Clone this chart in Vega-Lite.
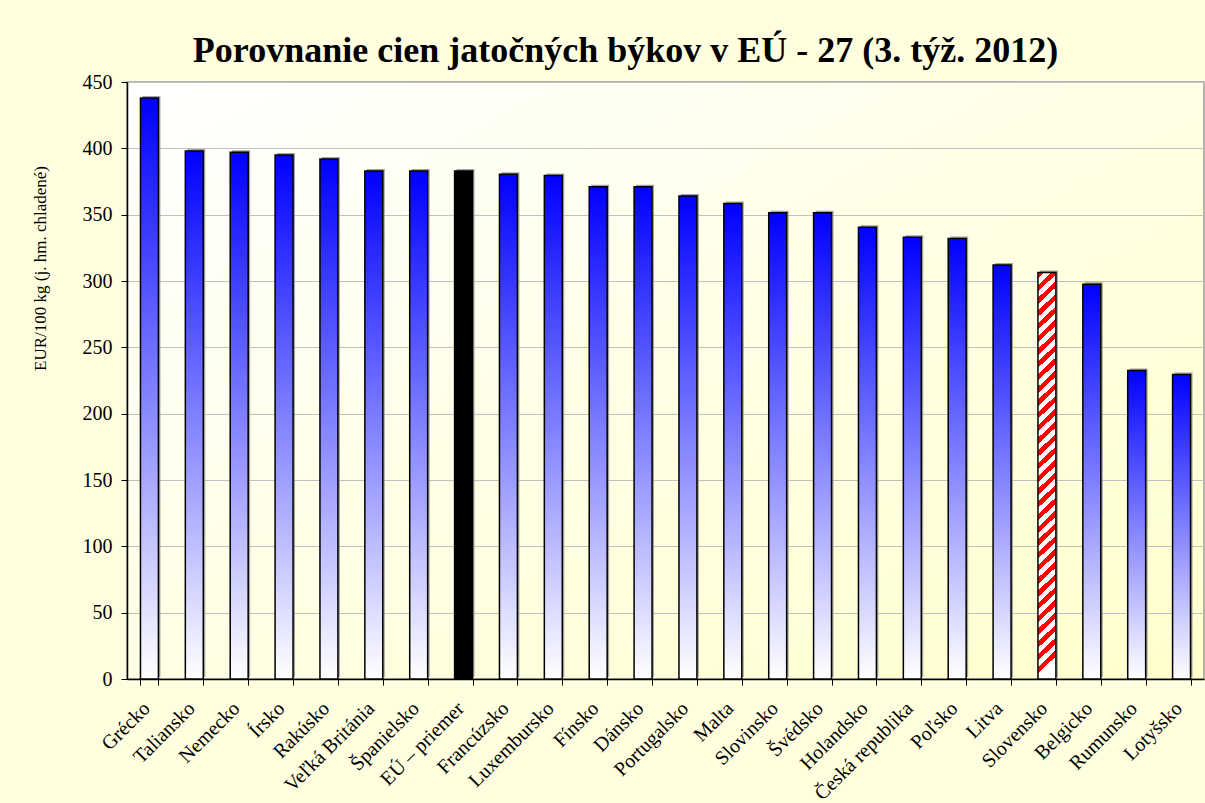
{
  "$schema": "https://vega.github.io/schema/vega-lite/v6.json",
  "autosize": "none",
  "width": 1077,
  "height": 597,
  "padding": {"left": 127, "top": 82, "right": 1, "bottom": 124},
  "background": "#FFFFE0",
  "config": {
    "font": "Liberation Serif",
    "view": {
      "stroke": "#9A9A9A",
      "strokeWidth": 1.5,
      "fill": {"gradient": "linear", "x1": 0, "y1": 0, "x2": 1, "y2": 1,
        "stops": [{"offset": 0, "color": "#FFFFFF"}, {"offset": 1, "color": "#FFFFCC"}]}
    }
  },
  "title": {
    "text": "Porovnanie cien jatočných býkov v EÚ - 27 (3. týž. 2012)",
    "font": "Liberation Serif",
    "fontSize": 36,
    "fontWeight": "bold",
    "color": "#000000",
    "anchor": "middle",
    "dx": -40,
    "offset": 2
  },
  "data": {
    "values": [
      {"country": "Grécko", "value": 438, "kind": "normal"},
      {"country": "Taliansko", "value": 398, "kind": "normal"},
      {"country": "Nemecko", "value": 397, "kind": "normal"},
      {"country": "Írsko", "value": 395, "kind": "normal"},
      {"country": "Rakúsko", "value": 392, "kind": "normal"},
      {"country": "Veľká Británia", "value": 383, "kind": "normal"},
      {"country": "Španielsko", "value": 383, "kind": "normal"},
      {"country": "EÚ – priemer", "value": 383, "kind": "avg"},
      {"country": "Francúzsko", "value": 380.5, "kind": "normal"},
      {"country": "Luxembursko", "value": 379.5, "kind": "normal"},
      {"country": "Fínsko", "value": 371, "kind": "normal"},
      {"country": "Dánsko", "value": 371, "kind": "normal"},
      {"country": "Portugalsko", "value": 364, "kind": "normal"},
      {"country": "Malta", "value": 358.5, "kind": "normal"},
      {"country": "Slovinsko", "value": 351.5, "kind": "normal"},
      {"country": "Švédsko", "value": 351.5, "kind": "normal"},
      {"country": "Holandsko", "value": 340.5, "kind": "normal"},
      {"country": "Česká republika", "value": 333, "kind": "normal"},
      {"country": "Poľsko", "value": 332, "kind": "normal"},
      {"country": "Litva", "value": 312, "kind": "normal"},
      {"country": "Slovensko", "value": 306.5, "kind": "sk"},
      {"country": "Belgicko", "value": 297.5, "kind": "normal"},
      {"country": "Rumunsko", "value": 232.5, "kind": "normal"},
      {"country": "Lotyšsko", "value": 229.5, "kind": "normal"}
    ]
  },
  "encoding": {
    "x": {
      "field": "country",
      "type": "nominal",
      "sort": null,
      "scale": {"paddingInner": 0.6, "paddingOuter": 0.3},
      "axis": {
        "title": null,
        "tickBand": "extent",
        "tickSize": 6,
        "tickColor": "#000000",
        "domainColor": "#000000",
        "domainWidth": 1.5,
        "labelAngle": -45,
        "labelAlign": "right",
        "labelBaseline": "middle",
        "labelPadding": 20,
        "labelOffset": -3,
        "labelFont": "Liberation Serif",
        "labelFontSize": 20,
        "labelColor": "#000000",
        "labelOverlap": false,
        "labelLimit": 300
      }
    },
    "y": {
      "field": "value",
      "type": "quantitative",
      "scale": {"domain": [0, 450], "nice": false},
      "axis": {
        "values": [0, 50, 100, 150, 200, 250, 300, 350, 400, 450],
        "title": "EUR/100 kg (j. hm. chladené)",
        "titleFont": "Liberation Serif",
        "titleFontSize": 17,
        "titleFontWeight": "normal",
        "titleColor": "#000000",
        "titleX": -87,
        "titleY": 186,
        "titleAlign": "center",
        "titleBaseline": "middle",
        "tickSize": 6,
        "tickColor": "#000000",
        "domainColor": "#000000",
        "domainWidth": 1.5,
        "grid": true,
        "gridColor": "#C0C0C0",
        "gridWidth": 1,
        "labelFont": "Liberation Serif",
        "labelFontSize": 20,
        "labelColor": "#000000",
        "labelPadding": 9
      }
    }
  },
  "layer": [
    {
      "mark": {"type": "bar", "fill": "#8C8C8C", "opacity": 0.8, "xOffset": 2, "yOffset": -2}
    },
    {
      "mark": {"type": "bar", "stroke": "#000000", "strokeWidth": 1.5},
      "encoding": {
        "fill": {
          "condition": [
            {"test": "datum.kind === 'avg'", "value": "#000000"},
            {"test": "datum.kind === 'sk'", "value": {"gradient": "linear", "x1": 0, "y1": 0, "x2": 0.0418, "y2": 1, "stops": [
              {"offset": 0, "color": "#FF0000"}, {"offset": 0.015625, "color": "#FF0000"}, {"offset": 0.015625, "color": "#FFFFFF"}, {"offset": 0.03125, "color": "#FFFFFF"},
              {"offset": 0.03125, "color": "#FF0000"}, {"offset": 0.046875, "color": "#FF0000"}, {"offset": 0.046875, "color": "#FFFFFF"}, {"offset": 0.0625, "color": "#FFFFFF"},
              {"offset": 0.0625, "color": "#FF0000"}, {"offset": 0.078125, "color": "#FF0000"}, {"offset": 0.078125, "color": "#FFFFFF"}, {"offset": 0.09375, "color": "#FFFFFF"},
              {"offset": 0.09375, "color": "#FF0000"}, {"offset": 0.109375, "color": "#FF0000"}, {"offset": 0.109375, "color": "#FFFFFF"}, {"offset": 0.125, "color": "#FFFFFF"},
              {"offset": 0.125, "color": "#FF0000"}, {"offset": 0.140625, "color": "#FF0000"}, {"offset": 0.140625, "color": "#FFFFFF"}, {"offset": 0.15625, "color": "#FFFFFF"},
              {"offset": 0.15625, "color": "#FF0000"}, {"offset": 0.171875, "color": "#FF0000"}, {"offset": 0.171875, "color": "#FFFFFF"}, {"offset": 0.1875, "color": "#FFFFFF"},
              {"offset": 0.1875, "color": "#FF0000"}, {"offset": 0.203125, "color": "#FF0000"}, {"offset": 0.203125, "color": "#FFFFFF"}, {"offset": 0.21875, "color": "#FFFFFF"},
              {"offset": 0.21875, "color": "#FF0000"}, {"offset": 0.234375, "color": "#FF0000"}, {"offset": 0.234375, "color": "#FFFFFF"}, {"offset": 0.25, "color": "#FFFFFF"},
              {"offset": 0.25, "color": "#FF0000"}, {"offset": 0.265625, "color": "#FF0000"}, {"offset": 0.265625, "color": "#FFFFFF"}, {"offset": 0.28125, "color": "#FFFFFF"},
              {"offset": 0.28125, "color": "#FF0000"}, {"offset": 0.296875, "color": "#FF0000"}, {"offset": 0.296875, "color": "#FFFFFF"}, {"offset": 0.3125, "color": "#FFFFFF"},
              {"offset": 0.3125, "color": "#FF0000"}, {"offset": 0.328125, "color": "#FF0000"}, {"offset": 0.328125, "color": "#FFFFFF"}, {"offset": 0.34375, "color": "#FFFFFF"},
              {"offset": 0.34375, "color": "#FF0000"}, {"offset": 0.359375, "color": "#FF0000"}, {"offset": 0.359375, "color": "#FFFFFF"}, {"offset": 0.375, "color": "#FFFFFF"},
              {"offset": 0.375, "color": "#FF0000"}, {"offset": 0.390625, "color": "#FF0000"}, {"offset": 0.390625, "color": "#FFFFFF"}, {"offset": 0.40625, "color": "#FFFFFF"},
              {"offset": 0.40625, "color": "#FF0000"}, {"offset": 0.421875, "color": "#FF0000"}, {"offset": 0.421875, "color": "#FFFFFF"}, {"offset": 0.4375, "color": "#FFFFFF"},
              {"offset": 0.4375, "color": "#FF0000"}, {"offset": 0.453125, "color": "#FF0000"}, {"offset": 0.453125, "color": "#FFFFFF"}, {"offset": 0.46875, "color": "#FFFFFF"},
              {"offset": 0.46875, "color": "#FF0000"}, {"offset": 0.484375, "color": "#FF0000"}, {"offset": 0.484375, "color": "#FFFFFF"}, {"offset": 0.5, "color": "#FFFFFF"},
              {"offset": 0.5, "color": "#FF0000"}, {"offset": 0.515625, "color": "#FF0000"}, {"offset": 0.515625, "color": "#FFFFFF"}, {"offset": 0.53125, "color": "#FFFFFF"},
              {"offset": 0.53125, "color": "#FF0000"}, {"offset": 0.546875, "color": "#FF0000"}, {"offset": 0.546875, "color": "#FFFFFF"}, {"offset": 0.5625, "color": "#FFFFFF"},
              {"offset": 0.5625, "color": "#FF0000"}, {"offset": 0.578125, "color": "#FF0000"}, {"offset": 0.578125, "color": "#FFFFFF"}, {"offset": 0.59375, "color": "#FFFFFF"},
              {"offset": 0.59375, "color": "#FF0000"}, {"offset": 0.609375, "color": "#FF0000"}, {"offset": 0.609375, "color": "#FFFFFF"}, {"offset": 0.625, "color": "#FFFFFF"},
              {"offset": 0.625, "color": "#FF0000"}, {"offset": 0.640625, "color": "#FF0000"}, {"offset": 0.640625, "color": "#FFFFFF"}, {"offset": 0.65625, "color": "#FFFFFF"},
              {"offset": 0.65625, "color": "#FF0000"}, {"offset": 0.671875, "color": "#FF0000"}, {"offset": 0.671875, "color": "#FFFFFF"}, {"offset": 0.6875, "color": "#FFFFFF"},
              {"offset": 0.6875, "color": "#FF0000"}, {"offset": 0.703125, "color": "#FF0000"}, {"offset": 0.703125, "color": "#FFFFFF"}, {"offset": 0.71875, "color": "#FFFFFF"},
              {"offset": 0.71875, "color": "#FF0000"}, {"offset": 0.734375, "color": "#FF0000"}, {"offset": 0.734375, "color": "#FFFFFF"}, {"offset": 0.75, "color": "#FFFFFF"},
              {"offset": 0.75, "color": "#FF0000"}, {"offset": 0.765625, "color": "#FF0000"}, {"offset": 0.765625, "color": "#FFFFFF"}, {"offset": 0.78125, "color": "#FFFFFF"},
              {"offset": 0.78125, "color": "#FF0000"}, {"offset": 0.796875, "color": "#FF0000"}, {"offset": 0.796875, "color": "#FFFFFF"}, {"offset": 0.8125, "color": "#FFFFFF"},
              {"offset": 0.8125, "color": "#FF0000"}, {"offset": 0.828125, "color": "#FF0000"}, {"offset": 0.828125, "color": "#FFFFFF"}, {"offset": 0.84375, "color": "#FFFFFF"},
              {"offset": 0.84375, "color": "#FF0000"}, {"offset": 0.859375, "color": "#FF0000"}, {"offset": 0.859375, "color": "#FFFFFF"}, {"offset": 0.875, "color": "#FFFFFF"},
              {"offset": 0.875, "color": "#FF0000"}, {"offset": 0.890625, "color": "#FF0000"}, {"offset": 0.890625, "color": "#FFFFFF"}, {"offset": 0.90625, "color": "#FFFFFF"},
              {"offset": 0.90625, "color": "#FF0000"}, {"offset": 0.921875, "color": "#FF0000"}, {"offset": 0.921875, "color": "#FFFFFF"}, {"offset": 0.9375, "color": "#FFFFFF"},
              {"offset": 0.9375, "color": "#FF0000"}, {"offset": 0.953125, "color": "#FF0000"}, {"offset": 0.953125, "color": "#FFFFFF"}, {"offset": 0.96875, "color": "#FFFFFF"},
              {"offset": 0.96875, "color": "#FF0000"}, {"offset": 0.984375, "color": "#FF0000"}, {"offset": 0.984375, "color": "#FFFFFF"}, {"offset": 1, "color": "#FFFFFF"}
            ]}}
          ],
          "value": {"gradient": "linear", "x1": 0, "y1": 0, "x2": 0, "y2": 1,
            "stops": [{"offset": 0, "color": "#0000FF"}, {"offset": 1, "color": "#FFFFFF"}]}
        }
      }
    }
  ]
}
